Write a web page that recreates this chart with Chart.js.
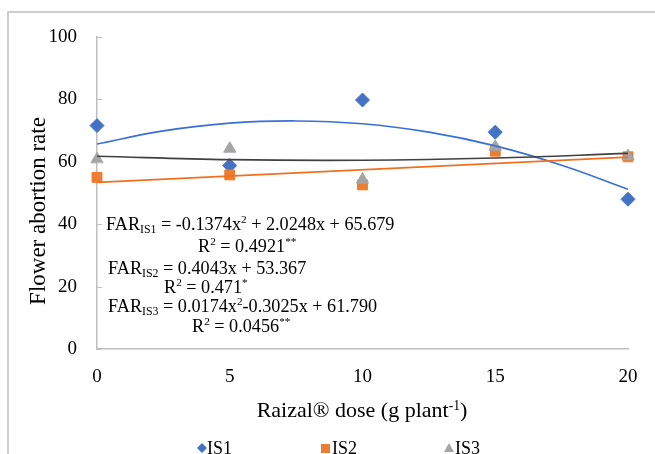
<!DOCTYPE html>
<html>
<head>
<meta charset="utf-8">
<script src="https://cdn.jsdelivr.net/npm/chart.js@4"></script>
<style>
  html, body { margin: 0; padding: 0; background: #fff; }
  #wrap { width: 655px; height: 454px; position: relative; }
</style>
</head>
<body>
<div id="wrap"><canvas id="chart" width="655" height="454"></canvas></div>
<script>
// Raizal dose (g plant-1)
const doses = [0, 5, 10, 15, 20];

// measured flower abortion rate
const is1 = [71.6, 58.8, 79.8, 69.5, 48.0];
const is2 = [55.0, 55.8, 52.6, 63.4, 61.6];
const is3 = [60.8, 64.2, 54.3, 64.8, 61.8];

// fitted trend lines
const trendX1 = [0, 2.5, 5, 7.5, 10, 12.5, 15, 17.5, 20];
const trend1 = [65.7, 69.9, 72.4, 73.1, 72.2, 69.5, 65.1, 58.9, 51.2];
const trendX2 = [0, 20];
const trend2 = [53.4, 61.5];
const trendX3 = [0, 5, 10, 15, 20];
const trend3 = [61.8, 60.7, 60.5, 61.2, 62.7];

const yTicks = [0, 20, 40, 60, 80, 100];
const xTicks = [0, 5, 10, 15, 20];

const seriesNames = ['IS1', 'IS2', 'IS3'];

const SERIF = '"Liberation Serif", "Times New Roman", serif';

function pts(xs, ys) {
    return xs.map((x, i) => ({ x: x, y: ys[i] }));
}

// draws text with sub/superscripts; segments are [text, 'n'|'sub'|'sup']
function drawRich(ctx, x, y, segs, size) {
    let cx = x;
    segs.forEach(s => {
        let fs = size, dy = 0;
        if (s[1] === 'sub') { fs = size * 0.65; dy = 3; }
        if (s[1] === 'sup') { fs = size * 0.62; dy = -7; }
        ctx.font = fs + 'px ' + SERIF;
        ctx.fillText(s[0], cx, y + dy);
        cx += ctx.measureText(s[0]).width;
    });
}

const extras = {
    id: 'extras',
    beforeDraw(chart) {
        const ctx = chart.ctx;
        ctx.save();
        ctx.fillStyle = '#fff';
        ctx.fillRect(0, 0, chart.width, chart.height);
        ctx.strokeStyle = '#bfbfbf';
        ctx.lineWidth = 1.5;
        ctx.strokeRect(8, 12, 700, 500);
        ctx.restore();
    },
    afterDraw(chart) {
        const ctx = chart.ctx;
        const xs = chart.scales.x, ys = chart.scales.y;
        ctx.save();

        // small inside tick marks on the y axis
        ctx.strokeStyle = '#bfbfbf';
        ctx.lineWidth = 1;
        yTicks.forEach(v => {
            const py = Math.round(ys.getPixelForValue(v)) + 0.5;
            ctx.beginPath();
            ctx.moveTo(xs.left, py);
            ctx.lineTo(xs.left + 5, py);
            ctx.stroke();
        });

        ctx.fillStyle = '#000';
        ctx.textBaseline = 'alphabetic';

        // y axis title
        ctx.save();
        ctx.translate(45, 211);
        ctx.rotate(-Math.PI / 2);
        ctx.textAlign = 'center';
        ctx.font = '23px ' + SERIF;
        ctx.fillText('Flower abortion rate', 0, 0);
        ctx.restore();

        // x axis title
        ctx.textAlign = 'left';
        const t1 = 'Raizal® dose (g plant', t2 = '-1', t3 = ')';
        ctx.font = '22px ' + SERIF;
        const w1 = ctx.measureText(t1).width, w3 = ctx.measureText(t3).width;
        ctx.font = (22 * 0.62) + 'px ' + SERIF;
        const w2 = ctx.measureText(t2).width;
        let sx = 362 - (w1 + w2 + w3) / 2;
        drawRich(ctx, sx, 417, [[t1, 'n'], [t2, 'sup'], [t3, 'n']], 22);

        // regression equations
        const fs = 18.2;
        drawRich(ctx, 106, 230, [['FAR', 'n'], ['IS1', 'sub'], [' = -0.1374x', 'n'], ['2', 'sup'], [' + 2.0248x + 65.679', 'n']], fs);
        drawRich(ctx, 198, 252, [['R', 'n'], ['2', 'sup'], [' = 0.4921', 'n'], ['**', 'sup']], fs);
        drawRich(ctx, 108, 274, [['FAR', 'n'], ['IS2', 'sub'], [' = 0.4043x + 53.367', 'n']], fs);
        drawRich(ctx, 164, 293, [['R', 'n'], ['2', 'sup'], [' = 0.471', 'n'], ['*', 'sup']], fs);
        drawRich(ctx, 108, 312, [['FAR', 'n'], ['IS3', 'sub'], [' = 0.0174x', 'n'], ['2', 'sup'], ['-0.3025x + 61.790', 'n']], fs);
        drawRich(ctx, 192, 332, [['R', 'n'], ['2', 'sup'], [' = 0.0456', 'n'], ['**', 'sup']], fs);

        // legend
        const ly = 448;
        ctx.fillStyle = '#4472C4';
        ctx.beginPath();
        ctx.moveTo(202, ly - 5); ctx.lineTo(207, ly); ctx.lineTo(202, ly + 5); ctx.lineTo(197, ly);
        ctx.closePath(); ctx.fill();
        ctx.fillStyle = '#ED7D31';
        ctx.fillRect(321, ly - 4, 9, 9);
        ctx.fillStyle = '#A5A5A5';
        ctx.beginPath();
        ctx.moveTo(449, ly - 5); ctx.lineTo(454, ly + 4); ctx.lineTo(444, ly + 4);
        ctx.closePath(); ctx.fill();
        ctx.fillStyle = '#000';
        ctx.font = '18px ' + SERIF;
        ctx.textBaseline = 'middle';
        ctx.fillText(seriesNames[0], 207, ly + 1);
        ctx.fillText(seriesNames[1], 332, ly + 1);
        ctx.fillText(seriesNames[2], 455, ly + 1);

        ctx.restore();
    }
};

const chart = new Chart(document.getElementById('chart').getContext('2d'), {
    type: 'scatter',
    data: {
        datasets: [
            {
                label: seriesNames[0] + ' fit', data: pts(trendX1, trend1), showLine: true,
                borderColor: '#3A6FD8', borderWidth: 1.6, pointRadius: 0, tension: 0.4, order: 3
            },
            {
                label: seriesNames[1] + ' fit', data: pts(trendX2, trend2), showLine: true,
                borderColor: '#F07020', borderWidth: 1.8, pointRadius: 0, order: 2
            },
            {
                label: seriesNames[2] + ' fit', data: pts(trendX3, trend3), showLine: true,
                borderColor: '#404040', borderWidth: 1.6, pointRadius: 0, tension: 0.4, order: 1
            },
            {
                label: seriesNames[0], data: pts(doses, is1), pointStyle: 'rectRot', clip: false,
                pointRadius: 7, backgroundColor: '#4472C4', borderColor: '#4472C4', order: 6
            },
            {
                label: seriesNames[1], data: pts(doses, is2), pointStyle: 'rect', clip: false,
                pointRadius: 7, backgroundColor: '#ED7D31', borderColor: '#ED7D31', order: 5
            },
            {
                label: seriesNames[2], data: pts(doses, is3), pointStyle: 'triangle', clip: false,
                pointRadius: 7, backgroundColor: '#A5A5A5', borderColor: '#A5A5A5', order: 4
            }
        ]
    },
    options: {
        responsive: false,
        animation: false,
        devicePixelRatio: 1,
        layout: { padding: { top: 37, right: 27, left: 0, bottom: 0 } },
        plugins: { legend: { display: false }, tooltip: { enabled: false } },
        scales: {
            x: {
                type: 'linear', min: 0, max: 20,
                afterFit: s => { s.height = 105; },
                afterBuildTicks: s => { s.ticks = xTicks.map(v => ({ value: v })); },
                grid: { display: false },
                border: { display: true, color: '#bfbfbf', width: 1.5 },
                ticks: { color: '#000', padding: 9, font: { family: SERIF, size: 19 } }
            },
            y: {
                min: 0, max: 100,
                afterFit: s => { s.width = 97; },
                afterBuildTicks: s => { s.ticks = yTicks.map(v => ({ value: v })); },
                grid: { display: false },
                border: { display: true, color: '#bfbfbf', width: 1.5 },
                ticks: { color: '#000', padding: 12, font: { family: SERIF, size: 19 } }
            }
        }
    },
    plugins: [extras]
});
</script>
</body>
</html>
